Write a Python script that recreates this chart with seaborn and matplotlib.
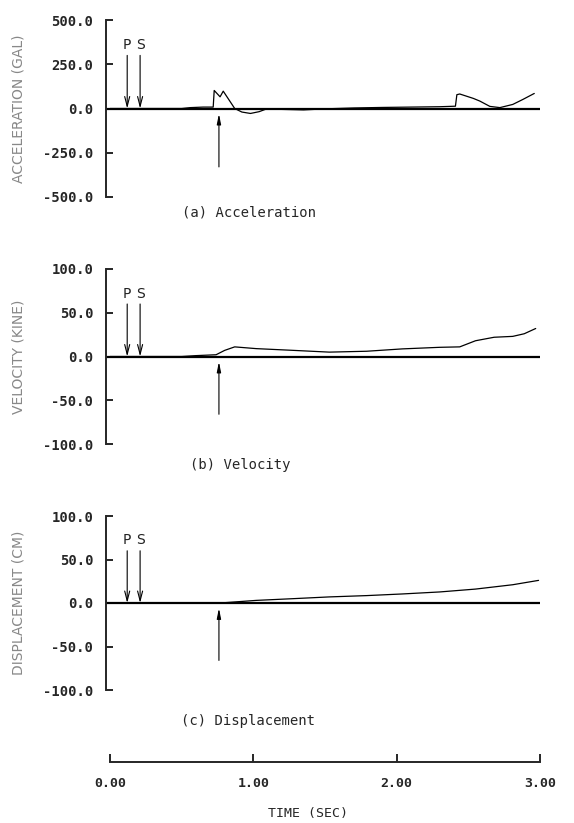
import numpy as np
import pandas as pd
import matplotlib
matplotlib.use("Agg")
import matplotlib.pyplot as plt
import seaborn as sns

"""
Acceleration / velocity / displacement records with P, S arrivals
"""

# time knots (sec) and values read from the record
acc_t = [0.0, 0.50, 0.56, 0.65, 0.72, 0.727, 0.768, 0.79, 0.87, 0.92, 0.98, 1.04,
         1.09, 1.20, 1.35, 1.50, 1.70, 1.90, 2.10, 2.30, 2.41, 2.42, 2.44, 2.535,
         2.58, 2.65, 2.72, 2.81, 2.88, 2.96]
acc_v = [0, 0, 5, 8, 8, 102, 66, 98, 0, -20, -28, -18,
         -3, -5, -8, -2, 3, 6, 8, 10, 13, 78, 82, 57,
         42, 12, 5, 23, 51, 85]

vel_t = [0.0, 0.50, 0.60, 0.74, 0.80, 0.87, 1.02, 1.28, 1.53, 1.79, 2.04, 2.30,
         2.44, 2.55, 2.68, 2.81, 2.89, 2.97]
vel_v = [0, 0, 1, 2, 7, 11, 9, 7, 5, 6, 8.7, 10.5,
         11, 18, 22, 23, 26, 32]

disp_t = [0.0, 0.77, 1.02, 1.28, 1.53, 1.79, 2.04, 2.30, 2.55, 2.81, 2.99]
disp_v = [0, 0, 3, 5, 7, 8.5, 10.4, 12.7, 16, 21, 26]

p_time = 0.12
s_time = 0.21
onset_time = 0.76

panel_ylabels = ['ACCELERATION (GAL)', 'VELOCITY (KINE)', 'DISPLACEMENT (CM)']
panel_captions = ['(a) Acceleration', '(b) Velocity', '(c) Displacement']
panel_ymax = [500.0, 100.0, 100.0]
panel_yticks = [[-500, -250, 0, 250, 500], [-100, -50, 0, 50, 100], [-100, -50, 0, 50, 100]]
time_ticks = [0, 1, 2, 3]
time_ticklabels = ['0.00', '1.00', '2.00', '3.00']

sns.set_style('white')
plt.rcParams['font.family'] = ['DejaVu Sans']

W, H = 574, 823
fig = plt.figure(figsize=(W / 100, H / 100), dpi=100)

# pixel geometry of the three panels (top, bottom)
px_x0, px_x3 = 110, 540
x_lo = -0.03
left = (px_x0 + x_lo * (px_x3 - px_x0) / 3) / W
width = (px_x3 - (px_x0 + x_lo * (px_x3 - px_x0) / 3)) / W
panel_px = [(20, 197), (269, 444), (516, 690)]
caption_px = [(182, 213), (190, 465), (181, 721)]

series = [(acc_t, acc_v), (vel_t, vel_v), (disp_t, disp_v)]
mono = 'DejaVu Sans Mono'

for i in range(3):
    top, bot = panel_px[i]
    ax = fig.add_axes([left, 1 - bot / H, width, (bot - top) / H])
    ymax = panel_ymax[i]
    t, v = series[i]
    df = pd.DataFrame({'t': t, 'v': v})
    sns.lineplot(data=df, x='t', y='v', ax=ax, color='black', lw=0.9)
    ax.axhline(0, color='black', lw=1.6, xmin=0, xmax=1)
    ax.set_xlim(x_lo, 3.0)
    ax.set_ylim(-ymax, ymax)
    ax.set_xticks([])
    ax.set_yticks(panel_yticks[i])
    ax.set_yticklabels(['%.1f' % y for y in panel_yticks[i]],
                       fontfamily=mono, fontweight='bold', fontsize=10)
    ax.tick_params(axis='y', left=True, direction='in', length=5, width=1.4, pad=9)
    for s in ['top', 'right', 'bottom']:
        ax.spines[s].set_visible(False)
    ax.spines['left'].set_linewidth(1.4)
    ax.set_xlabel('')
    ax.set_ylabel('')

    # P and S arrival arrows
    for tt, lab in [(p_time, 'P'), (s_time, 'S')]:
        ax.annotate('', xy=(tt, 0), xytext=(tt, 0.6 * ymax),
                    arrowprops=dict(arrowstyle='->,head_length=0.7,head_width=0.18',
                                    lw=0.8, color='black', shrinkA=0, shrinkB=0))
        ax.text(tt, 0.64 * ymax, lab, ha='center', va='bottom', fontsize=10,
                color='#222222')
    ax.annotate('', xy=(onset_time, -0.06 * ymax), xytext=(onset_time, -0.66 * ymax),
                arrowprops=dict(arrowstyle='-|>,head_length=0.6,head_width=0.12',
                                lw=0.8, color='black', shrinkA=0, shrinkB=0))

    zero_px = (top + bot) / 2
    fig.text(19 / W, 1 - zero_px / H, panel_ylabels[i], rotation=90, ha='center',
             va='center', fontsize=10, color='#888888')
    cx, cy = caption_px[i]
    fig.text(cx / W, 1 - cy / H, panel_captions[i], ha='left', va='center',
             fontfamily=mono, fontsize=10)

# common time axis at the bottom
tax = fig.add_axes([px_x0 / W, 1 - 762 / H, (px_x3 - px_x0) / W, 0.02])
tax.set_xlim(0, 3)
tax.set_ylim(0, 1)
tax.set_yticks([])
tax.set_xticks(time_ticks)
tax.set_xticklabels(time_ticklabels, fontfamily=mono, fontweight='bold', fontsize=9.5)
tax.tick_params(axis='x', bottom=True, direction='in', length=6, width=1.4, pad=11)
for s in ['top', 'right', 'left']:
    tax.spines[s].set_visible(False)
tax.spines['bottom'].set_linewidth(1.4)
tax.patch.set_alpha(0)
fig.text(308 / W, 1 - 814 / H, 'TIME (SEC)', ha='center', va='center',
         fontfamily=mono, fontsize=9.5)

fig.savefig('out.png', dpi=100)
